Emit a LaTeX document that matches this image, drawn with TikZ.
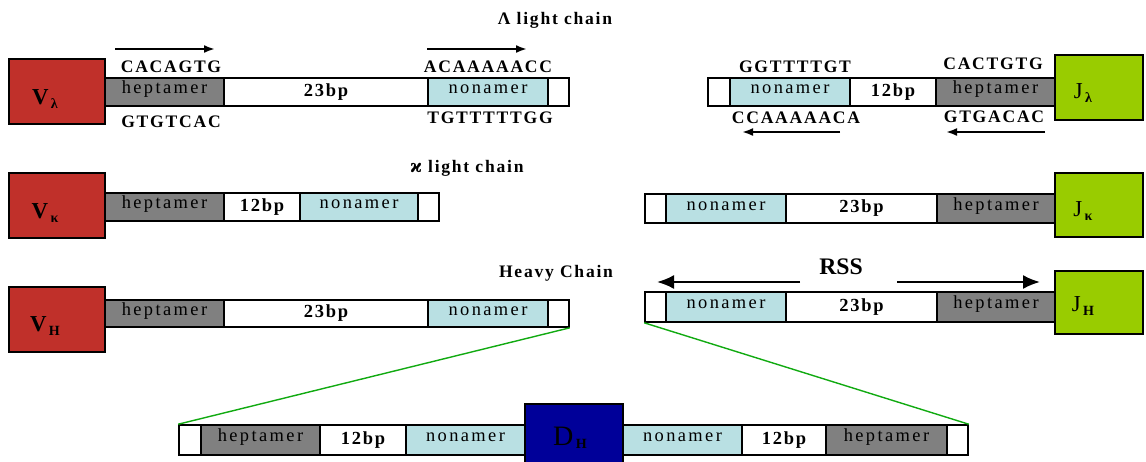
\documentclass[tikz,border=0pt]{standalone}
\usepackage{fontspec}
\setmainfont{Liberation Serif}
\newfontfamily\spaced[LetterSpace=10]{Liberation Serif}
\newfontfamily\wide[LetterSpace=13]{Liberation Serif}
\newfontfamily\altgreek{DejaVu Serif}
\usetikzlibrary{fit,arrows.meta}
\definecolor{vred}{HTML}{C0302A}
\definecolor{vgray}{HTML}{808080}
\definecolor{vcyan}{HTML}{B9E0E3}
\definecolor{vgreen}{HTML}{99CC00}
\definecolor{vnavy}{HTML}{000099}
\definecolor{vline}{HTML}{11AA11}

% one box of the gene segment: name, x1, x2, y1, y2, fill, label style, text
\newcommand{\seg}[8]{%
	\node[segbox, fill=#6, fit={(#2,#4) (#3,#5)}] (#1) {};
	\node[#7] (#1-t) at (#1.center) {#8};}
\newcommand{\lowsub}[1]{{\fontsize{8}{8}\selectfont\,\raisebox{-0.5ex}{\bfseries #1}}}

\tikzset{
	segbox/.style={draw=black, line width=0.9pt, inner sep=0pt},
	namelabel/.style={font=\wide\fontsize{10.5}{12}\selectfont, inner sep=0pt, yshift=0.05cm},
	bplabel/.style={font=\spaced\bfseries\fontsize{10.5}{12}\selectfont, inner sep=0pt},
	genebox/.style={draw=black, line width=0.9pt, inner sep=0pt},
	genetext/.style={font=\fontsize{13}{15}\selectfont, inner sep=0pt},
	seqtext/.style={font=\spaced\bfseries\fontsize{10}{12}\selectfont, inner sep=0pt},
	titletext/.style={font=\spaced\bfseries\fontsize{10}{12}\selectfont, inner sep=0pt},
	motif/.style={line width=1.2pt, -{Latex[length=2.2mm,width=1.6mm]}},
	rssarrow/.style={line width=1.2pt, -{Latex[length=3.4mm,width=2.8mm]}},
}

\begin{document}
\begin{tikzpicture}[x=0.02cm, y=-0.02cm]
	\useasboundingbox (0,0) rectangle (1146,461);

	% lambda light chain
	\node[titletext] (lam-title) at (555,20) {Λ light chain};
	\node[genebox, fill=vred, fit={(9,59) (105,124)}] (vl) {};
	\node[genetext, font=\bfseries\fontsize{13}{15}\selectfont] (vl-t) at (45,99) {V\lowsub{λ}};
	\seg{vl-hep}{105}{224}{78}{106}{vgray}{namelabel}{heptamer}
	\seg{vl-sp}{224}{428}{78}{106}{white}{bplabel}{23bp}
	\seg{vl-non}{428}{548}{78}{106}{vcyan}{namelabel}{nonamer}
	\seg{vl-end}{548}{569}{78}{106}{white}{bplabel}{}
	\node[seqtext] (s1) at (171,67) {CACAGTG};
	\node[seqtext] (s2) at (488,67) {ACAAAAACC};
	\node[seqtext] (s3) at (171,122) {GTGTCAC};
	\node[seqtext] (s4) at (490,118) {TGTTTTTGG};
	\coordinate (a1) at (115,49);
	\coordinate (a2) at (215,49);
	\coordinate (a3) at (427,49);
	\coordinate (a4) at (527,49);
	\draw[motif] (a1) -- (a2);
	\draw[motif] (a3) -- (a4);

	\seg{jl-end}{708}{730}{78}{106}{white}{bplabel}{}
	\seg{jl-non}{730}{850}{78}{106}{vcyan}{namelabel}{nonamer}
	\seg{jl-sp}{850}{936}{78}{106}{white}{bplabel}{12bp}
	\seg{jl-hep}{936}{1055}{78}{106}{vgray}{namelabel}{heptamer}
	\node[genebox, fill=vgreen, fit={(1055,55) (1143,120)}] (jl) {};
	\node[genetext] (jl-t) at (1083,93) {J\lowsub{λ}};
	\node[seqtext] (s5) at (795,67) {GGTTTTGT};
	\node[seqtext] (s6) at (993,64) {CACTGTG};
	\node[seqtext] (s7) at (796,118) {CCAAAAACA};
	\node[seqtext] (s8) at (994,117) {GTGACAC};
	\coordinate (b1) at (840,132);
	\coordinate (b2) at (742,132);
	\coordinate (b3) at (1045,132);
	\coordinate (b4) at (946,132);
	\draw[motif] (b1) -- (b2);
	\draw[motif] (b3) -- (b4);

	% kappa light chain
	\node[titletext] (kap-title) at (467,168) {{\altgreek ϰ} light chain};
	\node[genebox, fill=vred, fit={(9,173) (105,238)}] (vk) {};
	\node[genetext, font=\bfseries\fontsize{13}{15}\selectfont] (vk-t) at (45,213) {V\lowsub{κ}};
	\seg{vk-hep}{105}{224}{193}{221}{vgray}{namelabel}{heptamer}
	\seg{vk-sp}{224}{300}{193}{221}{white}{bplabel}{12bp}
	\seg{vk-non}{300}{418}{193}{221}{vcyan}{namelabel}{nonamer}
	\seg{vk-end}{418}{439}{193}{221}{white}{bplabel}{}

	\seg{jk-end}{645}{666}{194}{223}{white}{bplabel}{}
	\seg{jk-non}{666}{786}{194}{223}{vcyan}{namelabel}{nonamer}
	\seg{jk-sp}{786}{937}{194}{223}{white}{bplabel}{23bp}
	\seg{jk-hep}{937}{1055}{194}{223}{vgray}{namelabel}{heptamer}
	\node[genebox, fill=vgreen, fit={(1055,173) (1143,237)}] (jk) {};
	\node[genetext] (jk-t) at (1083,211) {J\lowsub{κ}};

	% heavy chain
	\node[titletext] (hv-title) at (556,273) {Heavy Chain};
	\node[genebox, fill=vred, fit={(9,287) (105,352)}] (vh) {};
	\node[genetext, font=\bfseries\fontsize{13}{15}\selectfont] (vh-t) at (45,326) {V\lowsub{H}};
	\seg{vh-hep}{105}{224}{300}{327}{vgray}{namelabel}{heptamer}
	\seg{vh-sp}{224}{428}{300}{327}{white}{bplabel}{23bp}
	\seg{vh-non}{428}{548}{300}{327}{vcyan}{namelabel}{nonamer}
	\seg{vh-end}{548}{569}{300}{327}{white}{bplabel}{}

	\node[font=\bfseries\fontsize{13.5}{15}\selectfont, inner sep=0pt] (rss) at (841,267) {RSS};
	\coordinate (r1) at (800,282);
	\coordinate (r2) at (657,282);
	\coordinate (r3) at (897,282);
	\coordinate (r4) at (1040,282);
	\draw[rssarrow] (r1) -- (r2);
	\draw[rssarrow] (r3) -- (r4);

	\seg{jh-end}{645}{666}{292}{322}{white}{bplabel}{}
	\seg{jh-non}{666}{786}{292}{322}{vcyan}{namelabel}{nonamer}
	\seg{jh-sp}{786}{937}{292}{322}{white}{bplabel}{23bp}
	\seg{jh-hep}{937}{1055}{292}{322}{vgray}{namelabel}{heptamer}
	\node[genebox, fill=vgreen, fit={(1055,271) (1143,334)}] (jh) {};
	\node[genetext] (jh-t) at (1083,306) {J\lowsub{H}};

	% D segment with its two flanking signals
	\seg{dl-end}{179}{201}{425}{455}{white}{bplabel}{}
	\seg{dl-hep}{201}{320}{425}{455}{vgray}{namelabel}{heptamer}
	\seg{dl-sp}{320}{406}{425}{455}{white}{bplabel}{12bp}
	\seg{dl-non}{406}{525}{425}{455}{vcyan}{namelabel}{nonamer}
	\seg{dr-non}{623}{742}{425}{455}{vcyan}{namelabel}{nonamer}
	\seg{dr-sp}{742}{826}{425}{455}{white}{bplabel}{12bp}
	\seg{dr-hep}{826}{947}{425}{455}{vgray}{namelabel}{heptamer}
	\seg{dr-end}{947}{968}{425}{455}{white}{bplabel}{}
	\node[genebox, fill=vnavy, fit={(525,404) (623,464)}] (dh) {};
	\node[genetext, font=\fontsize{16}{18}\selectfont] (dh-t) at (570,438) {D\lowsub{H}};

	\draw[vline, line width=0.8pt] (vh-end.south east) -- (dl-end.north west);
	\draw[vline, line width=0.8pt] (jh-end.south west) -- (dr-end.north east);
\end{tikzpicture}
\end{document}
